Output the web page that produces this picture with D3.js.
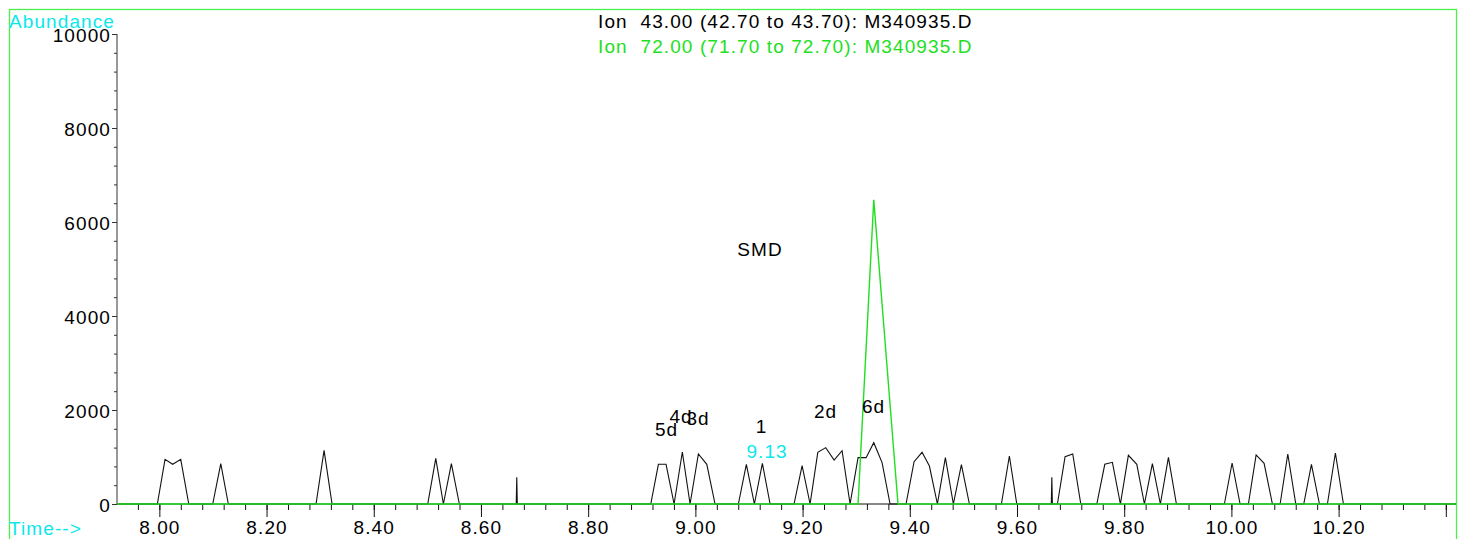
<!DOCTYPE html>
<html>
<head>
<meta charset="utf-8">
<script src="https://cdn.jsdelivr.net/npm/d3@7"></script>
<style>
  html, body { margin: 0; padding: 0; background: #fff; }
  svg { display: block; }
  text { font-family: "Liberation Sans", Arial, sans-serif; font-size: 19px; letter-spacing: 1.1px; white-space: pre; }
</style>
</head>
<body>
<svg id="chart" width="1458" height="539"></svg>
<script>
// ---------- data ----------
const titleLines = ["Ion  43.00 (42.70 to 43.70): M340935.D", "Ion  72.00 (71.70 to 72.70): M340935.D"];
const timeDomain = [7.921, 10.419];
const abundanceDomain = [0, 10000];
const xMajorTicks = [8.00, 8.20, 8.40, 8.60, 8.80, 9.00, 9.20, 9.40, 9.60, 9.80, 10.00, 10.20, 10.40];
const xTickLabels = ["8.00", "8.20", "8.40", "8.60", "8.80", "9.00", "9.20", "9.40", "9.60", "9.80", "10.00", "10.20"];
const yMajorTicks = [0, 2000, 4000, 6000, 8000, 10000];
const yTickLabels = ["0", "2000", "4000", "6000", "8000", "10000"];

// Ion 43 trace (black): retention time (min) and abundance
const ion43Times = [7.921, 7.9963, 8.0106, 8.025, 8.0399, 8.0549, 8.0996, 8.1146, 8.1287, 8.2923, 8.3073, 8.3222,
  8.5007, 8.5157, 8.5299, 8.5448, 8.5597, 8.6658, 8.6668, 8.6678, 8.9168, 8.931, 8.9453, 8.9603, 8.9757, 8.9901,
  9.0056, 9.0213, 9.0367, 9.0802, 9.0951, 9.1101, 9.125, 9.1394, 9.1841, 9.1991, 9.214, 9.2284, 9.2432, 9.2588,
  9.2737, 9.2886, 9.3035, 9.3185, 9.3328, 9.3483, 9.3632, 9.393, 9.408, 9.4229, 9.4366, 9.4515, 9.4664, 9.4813,
  9.4963, 9.5112, 9.5709, 9.5858, 9.5996, 9.664, 9.665, 9.666, 9.6754, 9.6897, 9.704, 9.719, 9.7489, 9.7638, 9.778,
  9.7929, 9.8078, 9.8235, 9.8377, 9.8526, 9.8675, 9.8825, 9.8974, 9.9869, 10.0013, 10.0162, 10.0317, 10.0461,
  10.061, 10.0765, 10.0909, 10.1052, 10.1201, 10.135, 10.1493, 10.1642, 10.1791, 10.194, 10.209, 10.419];
const ion43Values = [0, 0, 951, 845, 951, 0, 0, 857, 0, 0, 1142, 0,
  0, 972, 0, 857, 0, 0, 568, 0, 0, 845, 845, 0, 1106, 0,
  1064, 845, 0, 0, 845, 0, 866, 0, 0, 815, 0, 1100, 1199, 936,
  1135, 0, 986, 986, 1305, 880, 0, 0, 901, 1100, 808, 0, 986, 0,
  837, 0, 0, 1021, 0, 0, 568, 0, 0, 1007, 1064, 0, 0, 845, 887,
  0, 1036, 845, 0, 857, 0, 993, 0, 0, 872, 0, 0, 1043,
  866, 0, 0, 1064, 0, 0, 845, 0, 0, 1085, 0, 0];

// Ion 72 trace (green)
const ion72Times = [7.921, 9.3035, 9.3328, 9.378, 10.419];
const ion72Values = [0, 0, 6470, 0, 0];

// peak annotations: label, retention time, abundance at label baseline
const peakLabels = ["SMD", "5d", "4d", "3d", "1", "2d", "6d"];
const peakLabelTimes = [9.1207, 8.9463, 8.9733, 9.005, 9.1235, 9.243, 9.3325];
const peakLabelHeights = [5277, 1447, 1723, 1681, 1511, 1830, 1936];
const rtLabels = ["9.13"];
const rtLabelTimes = [9.1338];
const rtLabelHeights = [979];

// ---------- drawing ----------
const svg = d3.select("#chart");
const x = d3.scaleLinear().domain(timeDomain).range([117, 1456]);
const y = d3.scaleLinear().domain(abundanceDomain).range([504, 34]);

const cyan = "#0ae8ea";
const green = "#1ee01e";

// frame
svg.append("rect").attr("x", 9.5).attr("y", 9.5).attr("width", 1447).attr("height", 560)
  .attr("fill", "none").attr("stroke", "#4cef4c").attr("stroke-width", 1.3);

// titles
svg.append("text").attr("x", 598).attr("y", 27.5).attr("fill", "#000").text(titleLines[0]);
svg.append("text").attr("x", 598).attr("y", 52.5).attr("fill", green).text(titleLines[1]);

svg.append("text").attr("x", 9).attr("y", 27.5).attr("fill", cyan).text("Abundance");
svg.append("text").attr("x", 9).attr("y", 535).attr("fill", cyan).text("Time-->");

// x axis: minor ticks every 0.04, major every 0.2
const xMinor = d3.range(7.96, 10.42, 0.04).map(v => +v.toFixed(2));
const xAxisMinor = d3.axisBottom(x).tickValues(xMinor).tickSize(6).tickFormat("");
const xAxisMajor = d3.axisBottom(x).tickValues(xMajorTicks).tickSize(13)
  .tickFormat((d, i) => xTickLabels[i] !== undefined ? xTickLabels[i] : "");
const gxMinor = svg.append("g").attr("transform", `translate(0,${y(0)})`).call(xAxisMinor);
gxMinor.select(".domain").remove();
gxMinor.selectAll("line").attr("stroke", "#111");
const gxMajor = svg.append("g").attr("transform", `translate(0,${y(0)})`).call(xAxisMajor);
gxMajor.select(".domain").attr("stroke", "#111").attr("d", `M${x.range()[0]},0H${x.range()[1]}`);
gxMajor.selectAll("line").attr("stroke", "#111");
gxMajor.selectAll("text").attr("fill", "#000").attr("font-size", 19).attr("font-family", "Liberation Sans, Arial, sans-serif")
  .attr("y", 29.5).attr("dy", null);

// y axis: minor ticks every 400
const yMinor = d3.range(0, 10001, 400);
const yAxisMinor = d3.axisLeft(y).tickValues(yMinor).tickSize(3).tickFormat("");
const yAxisMajor = d3.axisLeft(y).tickValues(yMajorTicks).tickSize(5).tickFormat((d, i) => yTickLabels[i]);
const gyMinor = svg.append("g").attr("transform", `translate(${x.range()[0]},0)`).call(yAxisMinor);
gyMinor.select(".domain").remove();
gyMinor.selectAll("line").attr("stroke", "#333");
const gyMajor = svg.append("g").attr("transform", `translate(${x.range()[0]},0)`).call(yAxisMajor);
gyMajor.select(".domain").attr("stroke", "#333").attr("d", `M0,${y(0)}V${y(10000)}`);
gyMajor.selectAll("line").attr("stroke", "#333");
gyMajor.selectAll("text").attr("fill", "#000").attr("font-size", 19).attr("font-family", "Liberation Sans, Arial, sans-serif")
  .attr("x", -6).attr("dy", "0.42em");

// traces
const line = d3.line().x(d => x(d[0])).y(d => y(d[1]));
const ion43 = ion43Times.map((t, i) => [t, ion43Values[i]]);
const ion72 = ion72Times.map((t, i) => [t, ion72Values[i]]);
svg.append("path").datum(ion43).attr("d", line).attr("fill", "none").attr("stroke", "#111").attr("stroke-width", 1.1);
svg.append("path").datum(ion72).attr("d", line).attr("fill", "none").attr("stroke", green).attr("stroke-width", 1.4);

// annotations
svg.append("g").selectAll("text").data(peakLabels).join("text")
  .attr("x", (d, i) => x(peakLabelTimes[i])).attr("y", (d, i) => y(peakLabelHeights[i]))
  .attr("text-anchor", "middle").attr("fill", "#000").text(d => d);
svg.append("g").selectAll("text").data(rtLabels).join("text")
  .attr("x", (d, i) => x(rtLabelTimes[i])).attr("y", (d, i) => y(rtLabelHeights[i]))
  .attr("text-anchor", "middle").attr("fill", cyan).text(d => d);
</script>
</body>
</html>
